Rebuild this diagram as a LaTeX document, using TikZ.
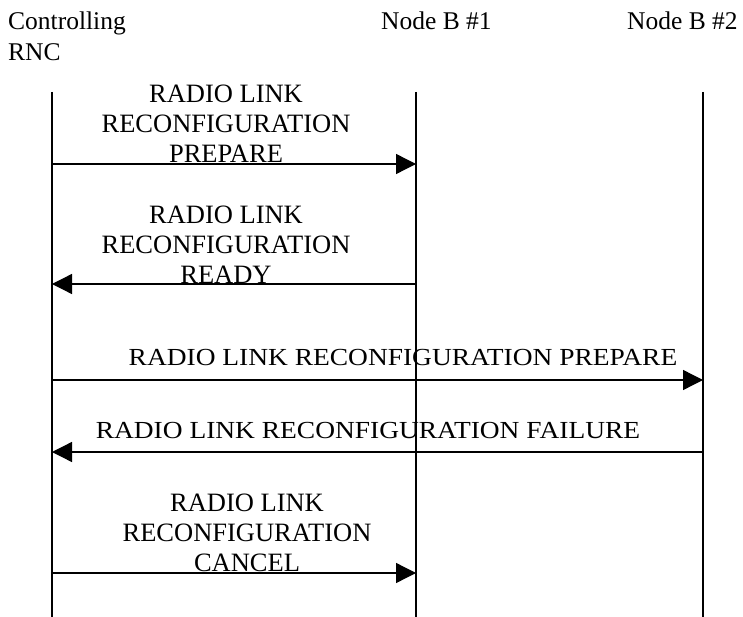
\documentclass[tikz,border=0pt]{standalone}
\usepackage{fontspec}
\setmainfont{Liberation Serif}
\newfontfamily\flatfont[FakeStretch=1.12]{Liberation Serif}
\usetikzlibrary{arrows.meta}

\tikzset{
  lifeline/.style={line width=1.3pt},
  msg/.style={line width=1.3pt, -{Triangle[length=20pt,width=20pt]}},
  head/.style={anchor=base west, inner sep=0pt, align=left, font=\fontsize{25.5}{31}\selectfont},
  tall/.style={anchor=south, inner sep=0pt, align=center, font=\fontsize{26.5}{30}\selectfont},
  flat/.style={anchor=base, inner sep=0pt, font=\flatfont\fontsize{24.5}{30}\selectfont},
}

\begin{document}
\begin{tikzpicture}[x=1pt,y=-1pt]
\useasboundingbox (0,0) rectangle (743,617);

% entities
\node[head] (rnc) at (8,61) {Controlling\\RNC};
\node[head] (nbA) at (381,30) {Node B \#1};
\node[head] (nbB) at (627,30) {Node B \#2};

% lifelines
\coordinate (rnc top) at (52,92);
\coordinate (rnc bot) at (52,617);
\coordinate (nbA top) at (416,92);
\coordinate (nbA bot) at (416,617);
\coordinate (nbB top) at (703,92);
\coordinate (nbB bot) at (703,617);
\draw[lifeline] (rnc top) -- (rnc bot);
\draw[lifeline] (nbA top) -- (nbA bot);
\draw[lifeline] (nbB top) -- (nbB bot);

% points where the messages meet the lifelines
\foreach \n/\y in {1/164,2/284,3/380,4/452,5/573}{
    \coordinate (rnc\n) at (52,\y);
    \coordinate (nbA\n) at (416,\y);
    \coordinate (nbB\n) at (703,\y);
}

% messages
\draw[msg] (rnc1) -- (nbA1);
\node[tall] (m1) at (226,163) {RADIO LINK\\RECONFIGURATION\\PREPARE};

\draw[msg] (nbA2) -- (rnc2);
\node[tall] (m2) at (226,284) {RADIO LINK\\RECONFIGURATION\\READY};

\draw[msg] (rnc3) -- (nbB3);
\node[flat] (m3) at (403,365) {RADIO LINK RECONFIGURATION PREPARE};

\draw[msg] (nbB4) -- (rnc4);
\node[flat] (m4) at (368,438) {RADIO LINK RECONFIGURATION FAILURE};

\draw[msg] (rnc5) -- (nbA5);
\node[tall] (m5) at (247,572) {RADIO LINK\\RECONFIGURATION\\CANCEL};
\end{tikzpicture}
\end{document}
